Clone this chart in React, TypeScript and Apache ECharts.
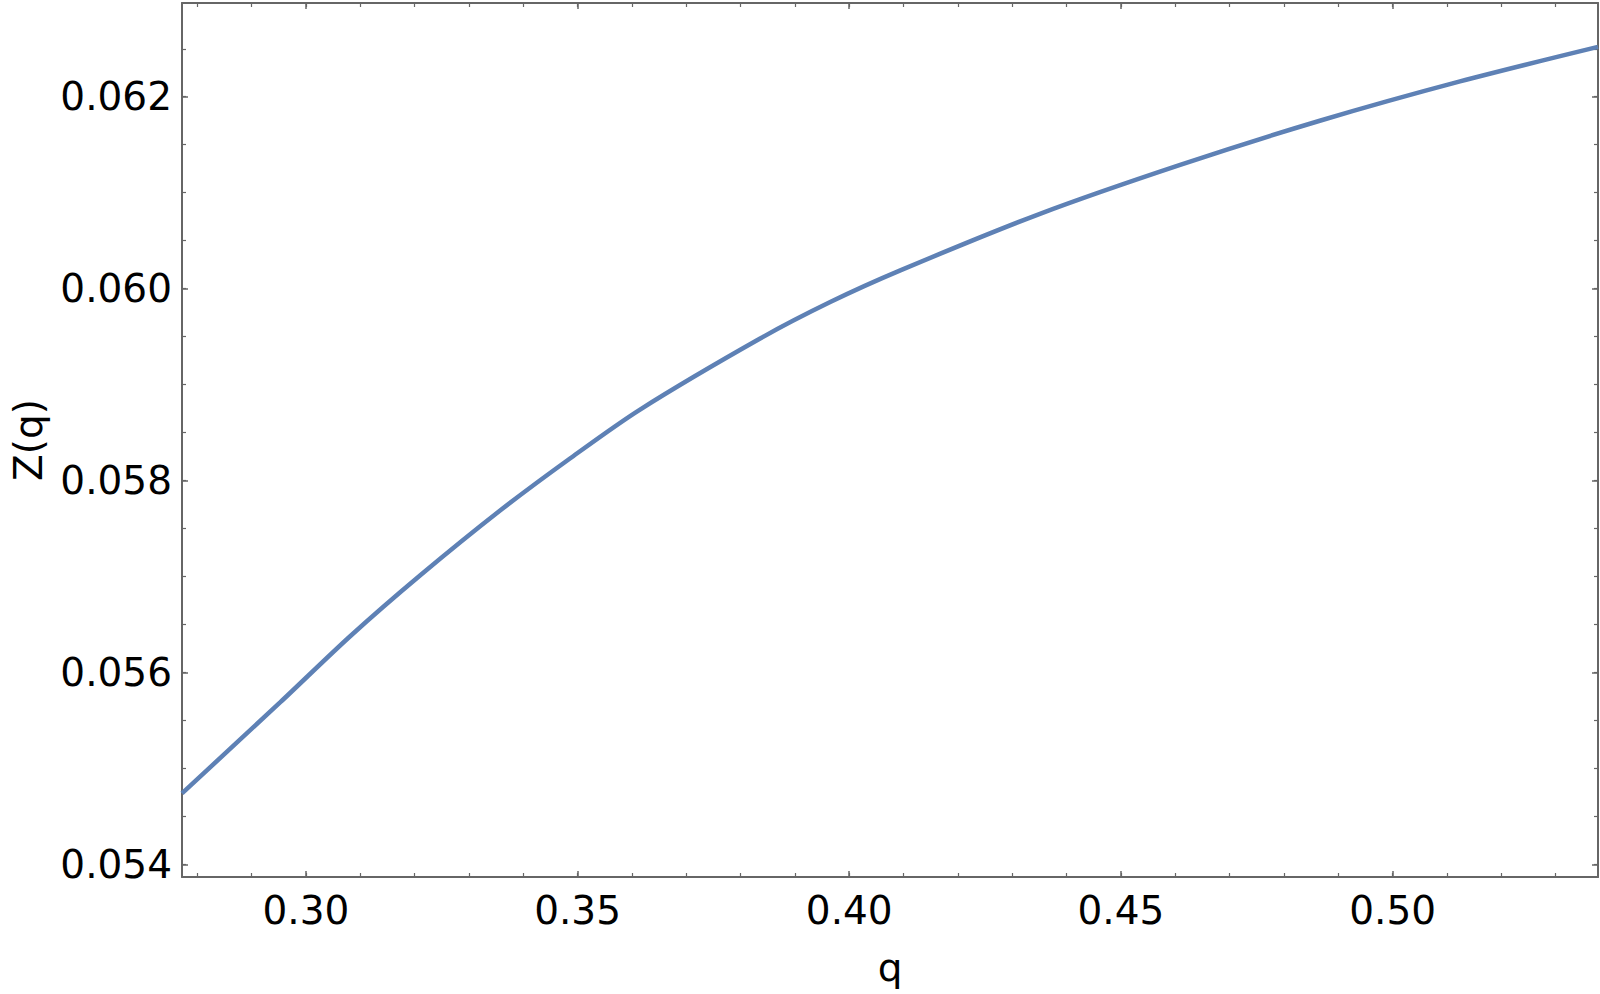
import React, { useEffect, useRef } from "react";
import * as echarts from "echarts";

const qValues = [0.2772, 0.2953, 0.3082, 0.321, 0.3358, 0.3486, 0.3615, 0.3836, 0.3965, 0.4094, 0.4351, 0.4609, 0.4866, 0.5124, 0.5378];
const zValues = [0.05474, 0.05569, 0.05638, 0.05701, 0.05769, 0.05823, 0.05874, 0.05948, 0.05986, 0.06019, 0.06078, 0.06129, 0.06175, 0.06216, 0.06252];

const xMajorTicks = [0.3, 0.35, 0.4, 0.45, 0.5];
const xMinorTicks = [0.28, 0.29, 0.3, 0.31, 0.32, 0.33, 0.34, 0.35, 0.36, 0.37, 0.38, 0.39, 0.4, 0.41, 0.42, 0.43, 0.44, 0.45, 0.46, 0.47, 0.48, 0.49, 0.5, 0.51, 0.52, 0.53];
const yMajorTicks = [0.054, 0.056, 0.058, 0.06, 0.062];
const yMinorTicks = [0.054, 0.0545, 0.055, 0.0555, 0.056, 0.0565, 0.057, 0.0575, 0.058, 0.0585, 0.059, 0.0595, 0.06, 0.0605, 0.061, 0.0615, 0.062, 0.0625];

const X_MIN = 0.2772;
const X_MAX = 0.5378;
const Y_MIN = 0.053868;
const Y_MAX = 0.062977;

const FRAME = "#666666";
const FONT = "DejaVu Sans";

export default function App() {
  const ref = useRef<HTMLDivElement>(null);
  useEffect(() => {
    if (!ref.current) return;
    const chart = echarts.init(ref.current, undefined, { renderer: "svg" });
    const xBase = (position: string, opts: any) => ({
      type: "value",
      position,
      min: X_MIN,
      max: X_MAX,
      splitLine: { show: false },
      axisLine: { show: false },
      axisLabel: { show: false },
      ...opts,
    });
    const yBase = (position: string, opts: any) => ({
      type: "value",
      position,
      min: Y_MIN,
      max: Y_MAX,
      splitLine: { show: false },
      axisLine: { show: false },
      axisLabel: { show: false },
      ...opts,
    });
    const majorTick = (vals: number[]) => ({
      show: true,
      inside: true,
      length: 6,
      customValues: vals,
      lineStyle: { color: FRAME, width: 1.5 },
    });
    const minorTick = (vals: number[]) => ({
      show: true,
      inside: true,
      length: 4,
      customValues: vals,
      lineStyle: { color: FRAME, width: 1.2 },
    });
    chart.setOption({
      animation: false,
      backgroundColor: "#ffffff",
      grid: {
        left: 182,
        right: 2,
        top: 3,
        bottom: 117,
        containLabel: false,
        outerBoundsMode: "none",
      },
      xAxis: [
        xBase("bottom", {
          axisLine: { show: true, onZero: false, lineStyle: { color: FRAME, width: 2 } },
          axisTick: majorTick(xMajorTicks),
          axisLabel: {
            show: true,
            customValues: xMajorTicks,
            formatter: (v: number) => v.toFixed(2),
            color: "#000",
            fontFamily: FONT,
            fontSize: 39,
            margin: 14,
          },
          name: "q",
          nameLocation: "middle",
          nameGap: 71,
          nameTextStyle: { color: "#000", fontFamily: FONT, fontSize: 39 },
        }),
        xBase("bottom", { axisTick: minorTick(xMinorTicks) }),
        xBase("top", {
          axisLine: { show: true, onZero: false, lineStyle: { color: FRAME, width: 2 } },
          axisTick: majorTick(xMajorTicks),
        }),
        xBase("top", { axisTick: minorTick(xMinorTicks) }),
      ],
      yAxis: [
        yBase("left", {
          axisLine: { show: true, onZero: false, lineStyle: { color: FRAME, width: 2 } },
          axisTick: majorTick(yMajorTicks),
          axisLabel: {
            show: true,
            customValues: yMajorTicks,
            formatter: (v: number) => v.toFixed(3),
            color: "#000",
            fontFamily: FONT,
            fontSize: 39,
            margin: 10,
          },
          name: "Z(q)",
          nameLocation: "middle",
          nameGap: 134,
          nameTextStyle: { color: "#000", fontFamily: FONT, fontSize: 39 },
        }),
        yBase("left", { axisTick: minorTick(yMinorTicks) }),
        yBase("right", {
          axisLine: { show: true, onZero: false, lineStyle: { color: FRAME, width: 2 } },
          axisTick: majorTick(yMajorTicks),
        }),
        yBase("right", { axisTick: minorTick(yMinorTicks) }),
      ],
      series: [
        {
          type: "line",
          xAxisIndex: 0,
          yAxisIndex: 0,
          data: qValues.map((q, i) => [q, zValues[i]]),
          smooth: 0.3,
          showSymbol: false,
          clip: true,
          lineStyle: { color: "#5E81B5", width: 4.5 },
        },
      ],
    });
    return () => chart.dispose();
  }, []);
  return (
    <div
      ref={ref}
      style={{ position: "absolute", left: 0, top: 0, width: 1600, height: 994, background: "#fff" }}
    />
  );
}
